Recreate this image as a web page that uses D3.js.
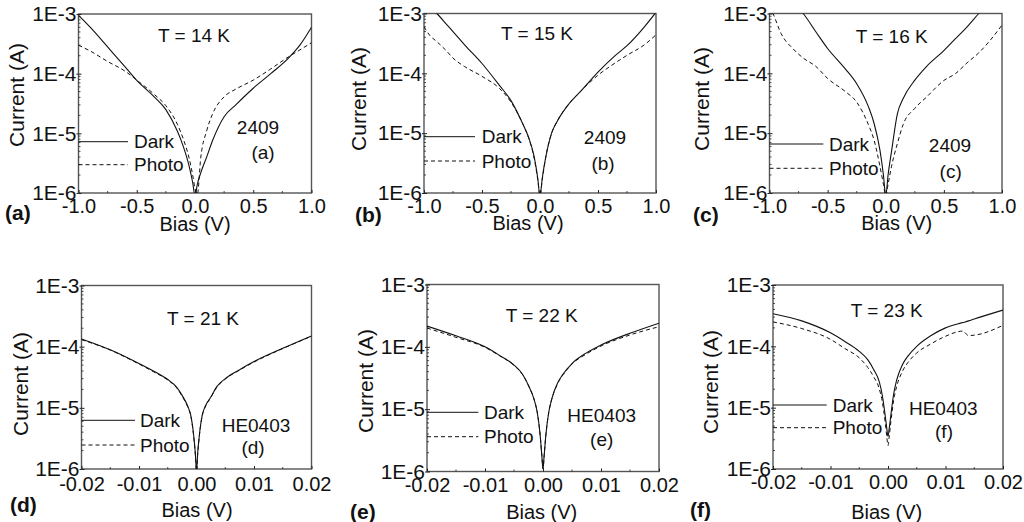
<!DOCTYPE html>
<html>
<head>
<meta charset="utf-8">
<script src="https://cdn.jsdelivr.net/npm/d3@7"></script>
<style>
body{margin:0;background:#fff}
svg{display:block;font-family:"Liberation Sans",Arial,sans-serif}
</style>
</head>
<body>
<div id="root"></div>
<script>
// ---- data (bias in V, current in A) ----
const biasA  = [-1.0,-0.9,-0.75,-0.6,-0.5,-0.35,-0.25,-0.15,-0.1,-0.05,-0.02,0,0.02,0.05,0.1,0.15,0.25,0.35,0.5,0.65,0.8,0.9,1.0]
const darkA  = [9.5e-4,6e-4,2.8e-4,1.3e-4,7.7e-5,4.1e-5,2.5e-5,1.07e-5,6e-6,2.8e-6,1.5e-6,0.9e-6,1.4e-6,2.2e-6,4e-6,7.5e-6,1.9e-5,3e-5,5.7e-5,1e-4,1.8e-4,3e-4,6e-4]
const photoA = [3e-4,2.4e-4,1.6e-4,1.1e-4,7.8e-5,4.5e-5,2.9e-5,1.4e-5,8e-6,3.8e-6,2e-6,1.2e-6,0.95e-6,4e-6,1.1e-5,2.1e-5,4.1e-5,5.5e-5,7.8e-5,1.2e-4,1.9e-4,2.5e-4,3.3e-4]

const biasB  = [-1.0,-0.95,-0.89,-0.8,-0.75,-0.65,-0.5,-0.35,-0.25,-0.15,-0.1,-0.05,-0.02,0,0.02,0.05,0.1,0.15,0.25,0.35,0.5,0.65,0.75,0.9,1.0]
const darkB  = [1.6e-3,1.25e-3,1e-3,6.4e-4,5e-4,3e-4,1.46e-4,6.3e-5,3.5e-5,1.45e-5,8.7e-6,4e-6,1.8e-6,0.9e-6,1.8e-6,4e-6,1e-5,1.6e-5,3.1e-5,5e-5,1.05e-4,2e-4,2.9e-4,6e-4,1.05e-3]
const photoB = [6e-4,4.3e-4,3.4e-4,2.3e-4,1.8e-4,1.3e-4,8.9e-5,5.6e-5,3.3e-5,1.45e-5,8.5e-6,3.8e-6,1.7e-6,0.9e-6,1.7e-6,4e-6,1e-5,1.6e-5,3.1e-5,5e-5,9.3e-5,1.5e-4,2e-4,3e-4,4.4e-4]

const biasC  = [-1.0,-0.97,-0.9,-0.8,-0.71,-0.6,-0.5,-0.35,-0.25,-0.15,-0.1,-0.05,-0.02,0,0.02,0.05,0.1,0.15,0.25,0.35,0.5,0.6,0.7,0.8,0.9,1.0]
const darkC  = [5e-3,4e-3,2.5e-3,1.5e-3,1e-3,4.9e-4,2.6e-4,1.2e-4,6.7e-5,2.8e-5,1.45e-5,5.2e-6,2e-6,0.9e-6,2e-6,5e-6,2.1e-5,3.8e-5,7.7e-5,1.3e-4,2.4e-4,3.8e-4,6e-4,1e-3,1.6e-3,2.5e-3]
const photoC = [1.3e-3,1e-3,4.6e-4,2.6e-4,1.8e-4,1.3e-4,8.2e-5,5e-5,3.3e-5,1.4e-5,7.6e-6,2.8e-6,1.4e-6,0.9e-6,1.4e-6,2.8e-6,6.7e-6,1.4e-5,2.6e-5,4e-5,7.6e-5,9.9e-5,1.5e-4,2.2e-4,3.6e-4,6.4e-4]

const biasLow = [-0.02,-0.015,-0.01,-0.0075,-0.005,-0.0035,-0.0025,-0.0015,-0.001,-0.0005,-0.0002,0,0.0002,0.0005,0.001,0.0015,0.0025,0.0035,0.005,0.0075,0.01,0.015,0.02]
const darkD  = [1.34e-4,8.9e-5,5.3e-5,4e-5,2.9e-5,2.2e-5,1.6e-5,1.05e-5,7.6e-6,3.6e-6,1.8e-6,0.9e-6,1.8e-6,3.6e-6,7.6e-6,1.05e-5,1.5e-5,2.2e-5,3e-5,4.2e-5,5.7e-5,9.4e-5,1.5e-4]
const photoD = [1.3e-4,8.8e-5,5.2e-5,3.9e-5,2.85e-5,2.15e-5,1.55e-5,1.02e-5,7.4e-6,3.5e-6,1.7e-6,0.9e-6,1.7e-6,3.5e-6,7.4e-6,1.02e-5,1.48e-5,2.15e-5,2.95e-5,4.15e-5,5.6e-5,9.3e-5,1.48e-4]

const darkE  = [2.15e-4,1.5e-4,1e-4,7.3e-5,5.1e-5,3.6e-5,2.4e-5,1.4e-5,9e-6,3.9e-6,1.8e-6,1.1e-6,1.8e-6,3.9e-6,9e-6,1.45e-5,2.6e-5,3.7e-5,5.4e-5,8e-5,1.07e-4,1.65e-4,2.4e-4]
const photoE = [2e-4,1.42e-4,9.8e-5,7.2e-5,5.05e-5,3.55e-5,2.38e-5,1.4e-5,9e-6,3.9e-6,1.8e-6,1.1e-6,1.8e-6,3.9e-6,9e-6,1.43e-5,2.55e-5,3.6e-5,5.3e-5,7.7e-5,1.03e-4,1.55e-4,2.1e-4]

const biasF  = [-0.02,-0.015,-0.01,-0.0075,-0.005,-0.0035,-0.0025,-0.0015,-0.001,-0.0005,-0.0002,0,0.0002,0.0005,0.001,0.0015,0.0025,0.0035,0.005,0.0075,0.01,0.013,0.014,0.015,0.02]
const darkF  = [3.4e-4,2.6e-4,1.66e-4,1.2e-4,8.3e-5,6e-5,4.2e-5,2.6e-5,1.6e-5,7.6e-6,4.5e-6,3.4e-6,4.5e-6,7.6e-6,1.7e-5,2.8e-5,5e-5,7e-5,1e-4,1.5e-4,2e-4,2.44e-4,2.6e-4,2.79e-4,3.9e-4]
const photoF = [2.5e-4,1.95e-4,1.3e-4,9.2e-5,6.5e-5,4.5e-5,3.2e-5,2e-5,1.26e-5,5.9e-6,3.3e-6,2.4e-6,3.3e-6,5.9e-6,1.35e-5,2.2e-5,3.9e-5,5.5e-5,7.8e-5,1.1e-4,1.46e-4,1.77e-4,1.5e-4,1.52e-4,2.2e-4]

// ticks
const yTicks = [1e-6,1e-5,1e-4,1e-3]
const yTickLabels = ["1E-6","1E-5","1E-4","1E-3"]
const xTicksWide = [-1.0,-0.5,0,0.5,1.0]
const xMinorWide = [-0.75,-0.25,0.25,0.75]
const xTicksNarrow = [-0.02,-0.01,0,0.01,0.02]
const xMinorNarrow = [-0.015,-0.005,0.005,0.015]

// ---- panel layout ----
const panels = [
  {tag:"(a)", bias:biasA, dark:darkA, photo:photoA, f:{l:78.5,r:311.5,t:14,b:193}, wide:true,
   temp:"T = 14 K", tempXY:[194,35], sample:"2409", sampleXY:[258,127], subXY:[263,152],
   leg:{dark:141.7, photo:164.7, end:128, text:134}, ylab:[17,95], xlab:[195,224], tagXY:[5,213], tickY:206},
  {tag:"(b)", bias:biasB, dark:darkB, photo:photoB, f:{l:424,r:656,t:13.5,b:193}, wide:true,
   temp:"T = 15 K", tempXY:[537,33], sample:"2409", sampleXY:[605,137.7], subXY:[603,163.3],
   leg:{dark:136.7, photo:161, end:475, text:481.7}, ylab:[359,99], xlab:[528,222.5], tagXY:[355,215], tickY:206},
  {tag:"(c)", bias:biasC, dark:darkC, photo:photoC, f:{l:769.5,r:1002,t:13.5,b:193}, wide:true,
   temp:"T = 16 K", tempXY:[891.7,36.7], sample:"2409", sampleXY:[950,145], subXY:[950.7,171.7],
   leg:{dark:144, photo:168.3, end:823.3, text:829}, ylab:[702,99], xlab:[896.7,222.5], tagXY:[693,215], tickY:206},
  {tag:"(d)", bias:biasLow, dark:darkD, photo:photoD, f:{l:81.5,r:311.5,t:285.5,b:469}, wide:false,
   temp:"T = 21 K", tempXY:[203,318], sample:"HE0403", sampleXY:[256,425], subXY:[253,447.7],
   leg:{dark:420.3, photo:445, end:135, text:140}, ylab:[21,384], xlab:[197,510], tagXY:[10,505], tickY:484.3},
  {tag:"(e)", bias:biasLow, dark:darkE, photo:photoE, f:{l:427,r:659,t:284.5,b:471.5}, wide:false,
   temp:"T = 22 K", tempXY:[541.7,315], sample:"HE0403", sampleXY:[601.7,415], subXY:[601.7,439],
   leg:{dark:412.3, photo:436.7, end:478.3, text:484}, ylab:[366,381], xlab:[541.7,511.7], tagXY:[350,512], tickY:485},
  {tag:"(f)", bias:biasF, dark:darkF, photo:photoF, f:{l:773,r:1003,t:285,b:469}, wide:false,
   temp:"T = 23 K", tempXY:[886.7,310], sample:"HE0403", sampleXY:[943.3,408.3], subXY:[944,431],
   leg:{dark:405, photo:427.7, end:826.7, text:832.7}, ylab:[711,382], xlab:[886.7,511.7], tagXY:[690,510], tickY:481.7}
]

const W = 1024, H = 522
const axisColor = "#555"
const svg = d3.select("#root").append("svg").attr("width",W).attr("height",H)

panels.forEach((p,i) => {
    let f = p.f
    let x = d3.scaleLinear().domain(p.wide ? [-1,1] : [-0.02,0.02]).range([f.l,f.r])
    let y = d3.scaleLog().domain([1e-6,1e-3]).range([f.b,f.t])
    let g = svg.append("g")

    // clip for curves
    g.append("clipPath").attr("id","clip"+i)
        .append("rect").attr("x",f.l).attr("y",f.t).attr("width",f.r-f.l).attr("height",f.b-f.t)

    // frame
    g.append("rect")
        .attr("x",f.l).attr("y",f.t).attr("width",f.r-f.l).attr("height",f.b-f.t)
        .attr("fill","none").attr("stroke",axisColor).attr("stroke-width",1.4)

    // minor y ticks (inside)
    let minors = []
    yTicks.slice(0,3).forEach(d => { for (let k=2;k<10;k++) minors.push(d*k) })
    g.selectAll(".ymin").data(minors).join("line")
        .attr("x1",f.l).attr("x2",f.l+2).attr("y1",d=>y(d)).attr("y2",d=>y(d))
        .attr("stroke","#222").attr("stroke-width",0.8)

    // y axis
    let yAxis = d3.axisLeft(y).tickValues(yTicks)
        .tickFormat((d,j)=>yTickLabels[j]).tickSizeInner(-3).tickSizeOuter(0).tickPadding(2)
    let ya = g.append("g").attr("transform",`translate(${f.l},0)`).call(yAxis)
    ya.select(".domain").remove()
    ya.selectAll(".tick line").attr("stroke","#222")
    ya.selectAll("text").attr("font-size",21).attr("fill","#111")
    // short outer stubs on major ticks
    ya.selectAll(".tick").append("line").attr("x1",0).attr("x2",-2).attr("stroke","#222")

    // x axis
    let xt = p.wide ? xTicksWide : xTicksNarrow
    let xm = p.wide ? xMinorWide : xMinorNarrow
    let xAxis = d3.axisBottom(x).tickValues(xt)
        .tickFormat(d => d.toFixed(p.wide ? 1 : 2))
        .tickSizeInner(-3).tickSizeOuter(0).tickPadding(0)
    let xa = g.append("g").attr("transform",`translate(0,${f.b})`).call(xAxis)
    xa.select(".domain").remove()
    xa.selectAll(".tick line").attr("stroke","#222")
    xa.selectAll("text").attr("font-size",20).attr("fill","#111")
        .attr("y",p.tickY-f.b).attr("dy","0.35em")
    g.selectAll(".xmin").data(xm).join("line")
        .attr("x1",d=>x(d)).attr("x2",d=>x(d)).attr("y1",f.b).attr("y2",f.b-2)
        .attr("stroke","#222").attr("stroke-width",0.8)

    // curves
    let line = d3.line().x(d=>x(d[0])).y(d=>y(d[1])).curve(d3.curveMonotoneX)
    let darkPts = p.bias.map((b,j)=>[b,p.dark[j]])
    let photoPts = p.bias.map((b,j)=>[b,p.photo[j]])
    let curves = g.append("g").attr("clip-path",`url(#clip${i})`)
    curves.append("path").attr("d",line(photoPts))
        .attr("fill","none").attr("stroke","#111").attr("stroke-width",1).attr("stroke-dasharray","4,3")
    curves.append("path").attr("d",line(darkPts))
        .attr("fill","none").attr("stroke","#111").attr("stroke-width",1.1)

    // legend
    g.append("line").attr("x1",f.l).attr("x2",p.leg.end).attr("y1",p.leg.dark).attr("y2",p.leg.dark)
        .attr("stroke","#111").attr("stroke-width",1)
    g.append("line").attr("x1",f.l).attr("x2",p.leg.end).attr("y1",p.leg.photo).attr("y2",p.leg.photo)
        .attr("stroke","#111").attr("stroke-width",1).attr("stroke-dasharray","4,3")
    g.append("text").attr("x",p.leg.text).attr("y",p.leg.dark).attr("dy","0.35em")
        .attr("font-size",19).attr("fill","#111").text("Dark")
    g.append("text").attr("x",p.leg.text).attr("y",p.leg.photo).attr("dy","0.35em")
        .attr("font-size",19).attr("fill","#111").text("Photo")

    // annotations
    let ann = [[p.temp,p.tempXY],[p.sample,p.sampleXY],[p.tag,p.subXY]]
    ann.forEach(a => {
        g.append("text").attr("x",a[1][0]).attr("y",a[1][1]).attr("dy","0.35em")
            .attr("text-anchor","middle").attr("font-size",19).attr("fill","#111").text(a[0])
    })

    // axis titles
    g.append("text").attr("transform",`translate(${p.ylab[0]},${p.ylab[1]}) rotate(-90)`)
        .attr("dy","0.35em").attr("text-anchor","middle").attr("font-size",21).attr("fill","#111")
        .text("Current (A)")
    g.append("text").attr("x",p.xlab[0]).attr("y",p.xlab[1]).attr("dy","0.35em")
        .attr("text-anchor","middle").attr("font-size",20).attr("fill","#111").text("Bias (V)")

    // panel tag
    g.append("text").attr("x",p.tagXY[0]).attr("y",p.tagXY[1]).attr("dy","0.35em")
        .attr("font-size",21).attr("font-weight","bold").attr("fill","#111").text(p.tag)
})
</script>
</body>
</html>
